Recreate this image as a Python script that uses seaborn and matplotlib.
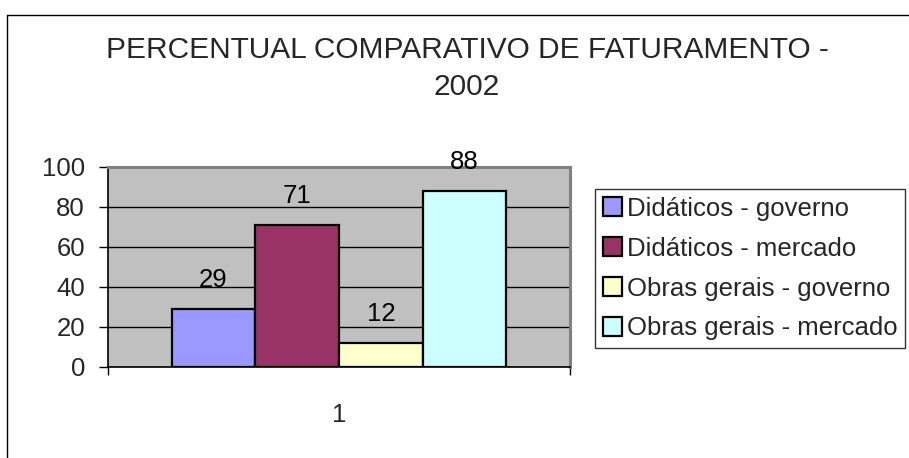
import pandas as pd
import matplotlib
matplotlib.use('Agg')
import matplotlib.pyplot as plt
from matplotlib.lines import Line2D
import seaborn as sns

# Dados do gráfico (percentual de faturamento 2002)
dados = pd.DataFrame({
    'grupo': ['1', '1', '1', '1'],
    'serie': ['Didáticos - governo', 'Didáticos - mercado',
              'Obras gerais - governo', 'Obras gerais - mercado'],
    'valor': [29, 71, 12, 88],
})

cores = ['#9999FF', '#993366', '#FFFFCC', '#CCFFFF']

W, H = 909, 458


def px_x(x):
    return x / W


def px_y(y):
    return 1 - y / H


def main():
    sns.set_theme(style='white')
    plt.rcParams['font.family'] = ['Liberation Sans', 'DejaVu Sans']

    fig = plt.figure(figsize=(W / 100, H / 100), dpi=100)
    ax = fig.add_axes([px_x(108), px_y(367), px_x(570) - px_x(108), px_y(167) - px_y(367)])

    sns.barplot(data=dados, x='grupo', y='valor', hue='serie', palette=cores,
                edgecolor='black', linewidth=1.6, width=0.8, saturation=1, ax=ax)

    ax.set_facecolor('#C0C0C0')
    ax.set_ylim(0, 100)
    ax.set_xlim(-0.552, 0.552)
    ax.set_yticks([0, 20, 40, 60, 80, 100])
    ax.set_xlabel('')
    ax.set_ylabel('')

    # grade horizontal preta
    ax.yaxis.grid(True, color='black', linewidth=1)
    ax.xaxis.grid(False)
    ax.set_axisbelow(True)

    # bordas no estilo Excel
    for lado in ['top', 'right']:
        ax.spines[lado].set_color('#808080')
        ax.spines[lado].set_linewidth(2.2)
    for lado in ['left', 'bottom']:
        ax.spines[lado].set_color('black')
        ax.spines[lado].set_linewidth(1.2)

    ax.tick_params(axis='y', which='major', length=6.5, width=1, color='black',
                   direction='out', pad=10, labelsize=18.5, left=True)
    ax.tick_params(axis='x', which='major', length=0, pad=26, labelsize=18.5)
    lim = ax.get_xlim()
    ax.set_xticks(list(lim), minor=True)
    ax.tick_params(axis='x', which='minor', length=6, width=1, color='black',
                   direction='out', bottom=True)

    # rótulos de dados
    for barra, valor in zip(ax.patches, dados['valor']):
        ax.annotate(str(valor), (barra.get_x() + barra.get_width() / 2, barra.get_height()),
                    xytext=(0, 16), textcoords='offset points',
                    ha='center', va='baseline', fontsize=18.5, color='black',
                    annotation_clip=False)

    # legenda
    handles, labels = ax.get_legend_handles_labels()
    leg = ax.legend(handles, labels, loc='upper left',
                    bbox_to_anchor=(px_x(595), px_y(189)), bbox_transform=fig.transFigure,
                    fontsize=18.5, frameon=True, fancybox=False, edgecolor='black',
                    handlelength=0.75, handleheight=0.75, handletextpad=0.2,
                    labelspacing=0.62, borderpad=0.3, borderaxespad=0)
    leg.get_frame().set_linewidth(1)
    for p in leg.get_patches():
        p.set_edgecolor('black')
        p.set_linewidth(1.6)

    # título em duas linhas
    fig.text(px_x(467), px_y(58), 'PERCENTUAL COMPARATIVO DE FATURAMENTO -',
             ha='center', va='baseline', fontsize=21.5)
    fig.text(px_x(467), px_y(95), '2002', ha='center', va='baseline', fontsize=21.5)

    # moldura da área do gráfico
    fig.add_artist(Line2D([px_x(7), 1], [px_y(15), px_y(15)], color='black', lw=1))
    fig.add_artist(Line2D([px_x(7), px_x(7)], [0, px_y(15)], color='black', lw=1))

    fig.savefig('out.png', dpi=100)


if __name__ == "__main__":
    main()
